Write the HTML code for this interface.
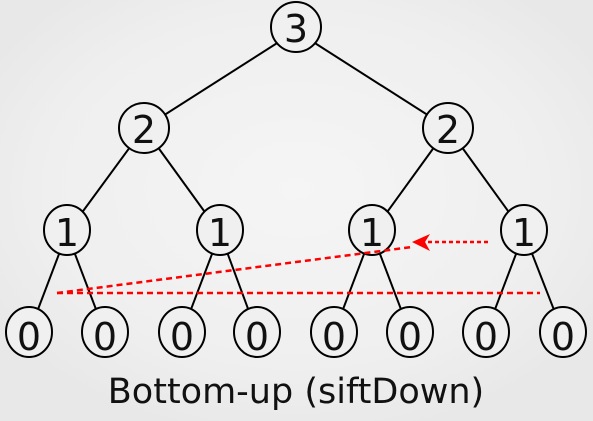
<!DOCTYPE html>
<html><head><style>
html,body{margin:0;padding:0;background:#f1f1f1;}
svg{display:block;}
</style></head><body>
<svg width="593" height="421" viewBox="0 0 593 421" xmlns="http://www.w3.org/2000/svg">
<defs>
<radialGradient id="bg" cx="50%" cy="45%" r="60%">
<stop offset="0" stop-color="#f5f5f5"/><stop offset="0.7" stop-color="#efefef"/><stop offset="1" stop-color="#e8e8e8"/>
</radialGradient>
</defs>
<rect width="593" height="421" fill="url(#bg)"/>
<g stroke="#000" stroke-width="2" fill="none">
<line x1="296" y1="31" x2="144" y2="128"/><line x1="296" y1="31" x2="448" y2="128"/>
<line x1="144" y1="128" x2="67" y2="233"/><line x1="144" y1="128" x2="220" y2="233"/>
<line x1="448" y1="128" x2="372" y2="233"/><line x1="448" y1="128" x2="524" y2="233"/>
<line x1="67" y1="233" x2="29" y2="333"/><line x1="67" y1="233" x2="105" y2="333"/>
<line x1="220" y1="233" x2="182" y2="333"/><line x1="220" y1="233" x2="257" y2="333"/>
<line x1="372" y1="233" x2="334" y2="333"/><line x1="372" y1="233" x2="410" y2="333"/>
<line x1="524" y1="233" x2="486" y2="333"/><line x1="524" y1="233" x2="563" y2="333"/>
</g>
<g stroke="#000" stroke-width="2" fill="#f0f0f0">
<circle cx="296" cy="27" r="25"/>
<ellipse cx="144" cy="128" rx="25" ry="25"/><ellipse cx="448" cy="128" rx="25" ry="25"/>
<ellipse cx="67" cy="230" rx="23" ry="25"/><ellipse cx="220" cy="230" rx="23" ry="25"/>
<ellipse cx="372" cy="230" rx="23" ry="25"/><ellipse cx="524" cy="230" rx="23" ry="25"/>
<ellipse cx="29" cy="332" rx="23" ry="25"/><ellipse cx="105" cy="332" rx="23" ry="25"/>
<ellipse cx="182" cy="332" rx="23" ry="25"/><ellipse cx="257" cy="332" rx="23" ry="25"/>
<ellipse cx="334" cy="332" rx="23" ry="25"/><ellipse cx="410" cy="332" rx="23" ry="25"/>
<ellipse cx="486" cy="332" rx="23" ry="25"/><ellipse cx="563" cy="332" rx="23" ry="25"/>
</g>
<g stroke="#ff0000" stroke-width="2.5" stroke-dasharray="6,4" fill="none">
<line x1="57" y1="293" x2="540" y2="293"/>
<line x1="57" y1="293" x2="412" y2="247"/>
<line x1="488" y1="242" x2="422" y2="242" stroke-dasharray="4,3"/>
</g>
<path d="M412 242 L430 234 L425 242 L430 251 Z" fill="#ff0000"/>
<g font-family="DejaVu Sans, Liberation Sans, sans-serif" font-size="38" text-anchor="middle" fill="#111">
<text x="296" y="42">3</text>
<text x="144" y="143">2</text><text x="448" y="143">2</text>
<text x="67" y="246">1</text><text x="220" y="246">1</text><text x="372" y="246">1</text><text x="524" y="246">1</text>
<text x="29" y="350">0</text><text x="105" y="350">0</text><text x="182" y="350">0</text><text x="257" y="350">0</text>
<text x="334" y="350">0</text><text x="410" y="350">0</text><text x="486" y="350">0</text><text x="563" y="350">0</text>
<text x="296" y="403" font-size="35">Bottom-up (siftDown)</text>
</g>
</svg>
</body></html>
